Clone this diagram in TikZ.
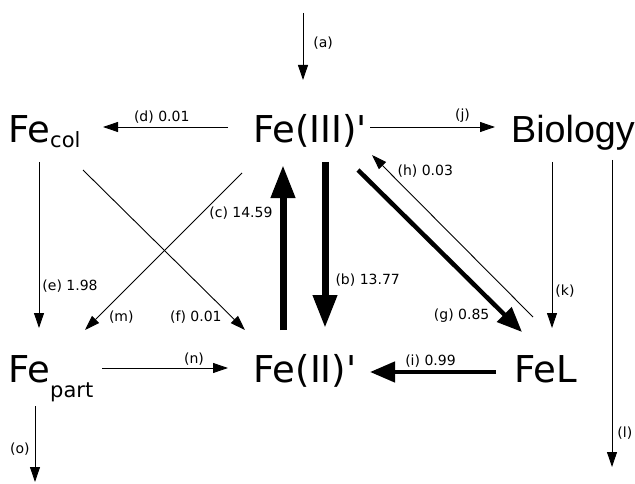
\documentclass[tikz,border=0pt]{standalone}
\usepackage{fontspec}
\setmainfont{DejaVu Sans}
\newfontfamily\biofont{Liberation Sans}
\usetikzlibrary{arrows.meta}

\begin{document}
\begin{tikzpicture}[
    x=1pt, y=1pt,
    species/.style={
        inner sep=0pt,
        anchor=base,
        font=\fontsize{37}{40}\selectfont
    },
    lbl/.style={inner sep=2pt, font=\fontsize{14}{16}\selectfont},
    flux/.style={-{Triangle[length=15pt,width=10pt]}, line width=0.9pt},
    midflux/.style={-{Triangle[length=25pt,width=20pt]}, line width=4.5pt},
    bigflux/.style={-{Triangle[length=33pt,width=23pt]}, line width=7pt}
]
    \useasboundingbox (0,0) rectangle (635,483);

    \node[species] (fe3) at (310,340) {Fe(III)\textquotesingle};
    \node[species, anchor=base west] (fecol) at (8,340) {Fe\raisebox{-5pt}{\fontsize{21}{21}\selectfont col}};
    \node[species, font={\fontsize{37.7}{40}\biofont}] (bio) at (573,340) {Biology};
    \node[species] (fe2) at (305,101) {Fe(II)\textquotesingle};
    \node[species, anchor=base west] (fepart) at (8,101) {Fe\raisebox{-15pt}{\fontsize{21}{21}\selectfont part}};
    \node[species] (fel) at (546,101) {FeL};

    \coordinate (supply) at (303,470);
    \coordinate (export) at (612,16);
    \coordinate (sink) at (35,1);

    \draw[flux] (supply) -- node[lbl, pos=0.45, right=8pt] {(a)} ([shift={(-7,63)}]fe3.base);
    \draw[flux] ([shift={(-82,16)}]fe3.base) -- node[lbl, pos=0.53, above=1pt] {(d) 0.01} ([shift={(95,16)}]fecol.base west);
    \draw[flux] ([shift={(60,16)}]fe3.base) -- node[lbl, pos=0.74, above=2pt] {(j)} ([shift={(-78,16)}]bio.base);
    \draw[bigflux] ([shift={(15,-19)}]fe3.base) -- node[lbl, pos=0.71, right=5pt] {(b) 13.77} ([shift={(20,54)}]fe2.base);
    \draw[bigflux] ([shift={(-22,52)}]fe2.base) -- node[lbl, pos=0.71, left=5pt] {(c) 14.59} ([shift={(-27,-22)}]fe3.base);
    \draw[flux] ([shift={(31,-19)}]fecol.base west) -- node[lbl, pos=0.75, right=1pt] {(e) 1.98} ([shift={(31,54)}]fepart.base west);
    \draw[flux] ([shift={(-68,-30)}]fe3.base) -- node[lbl, pos=0.92, right=9pt] {(m)} ([shift={(77,52)}]fepart.base west);
    \draw[flux] ([shift={(75,-27)}]fecol.base west) -- node[lbl, pos=0.92, left=8pt] {(f) 0.01} ([shift={(-60,52)}]fe2.base);
    \draw[midflux] ([shift={(48,-27)}]fe3.base) -- node[lbl, pos=0.9, left=12pt] {(g) 0.85} ([shift={(-24,50)}]fel.base);
    \draw[flux] ([shift={(-13,65)}]fel.base) -- node[lbl, pos=0.9, right=7pt] {(h) 0.03} ([shift={(62,-12)}]fe3.base);
    \draw[flux] ([shift={(-21,-19)}]bio.base) -- node[lbl, pos=0.78, right=1pt] {(k)} ([shift={(6,54)}]fel.base);
    \draw[flux] ([shift={(39,-17)}]bio.base) -- node[lbl, pos=0.89, right=3pt] {(l)} (export);
    \draw[flux] ([shift={(94,14)}]fepart.base west) -- node[lbl, pos=0.73, above] {(n)} ([shift={(-77,14)}]fe2.base);
    \draw[midflux] ([shift={(-50,10)}]fel.base) -- node[lbl, pos=0.52, above] {(i) 0.99} ([shift={(65,10)}]fe2.base);
    \draw[flux] ([shift={(27,-24)}]fepart.base west) -- node[lbl, pos=0.57, left=3pt] {(o)} (sink);
\end{tikzpicture}
\end{document}
